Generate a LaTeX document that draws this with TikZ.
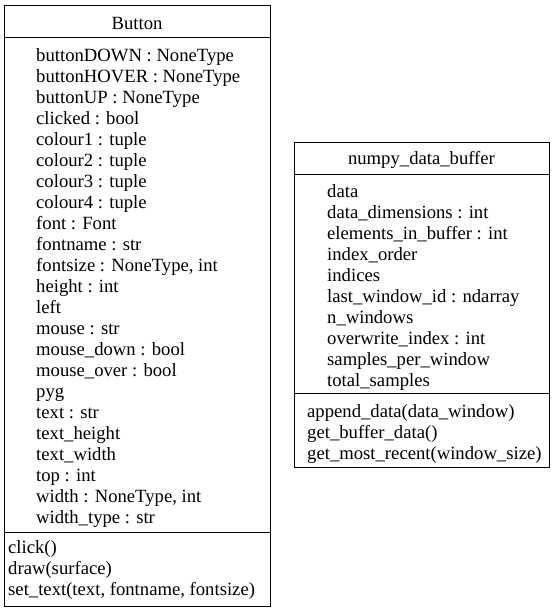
\documentclass[tikz,border=0pt]{standalone}
\usepackage{fontspec}
\setmainfont{Liberation Serif}
\usetikzlibrary{positioning}

\tikzset{
  member/.style={anchor=base west, inner sep=0pt, font=\fontsize{18.67}{21}\selectfont},
  classname/.style={anchor=base, inner sep=0pt, font=\fontsize{18.67}{21}\selectfont},
  frame/.style={draw, line width=1pt},
}

\begin{document}
\begin{tikzpicture}[x=1pt, y=-1pt]

  \def \step {21} % line spacing of the member lists
  \useasboundingbox (0,0) rectangle (555,611);

  % class Button
  \draw[frame] (4,5) rectangle (270,606);
  \draw[frame] (4,37) -- (270,37);
  \draw[frame] (4,532) -- (270,532);
  \node[classname] (button) at (137,29) {Button};
  \foreach \a [count=\i] in {buttonDOWN : NoneType, buttonHOVER : NoneType,
      buttonUP : NoneType, clicked : bool, colour1 : tuple, colour2 : tuple,
      colour3 : tuple, colour4 : tuple, font : Font, fontname : str,
      {fontsize : NoneType, int}, height : int, left, mouse : str,
      mouse\_down : bool, mouse\_over : bool, pyg, text : str, text\_height,
      text\_width, top : int, {width : NoneType, int}, width\_type : str} {
    \node[member] (ba\i) at (36,{61+\step*(\i-1)}) {\a};
  }
  \foreach \m [count=\i] in {click(), draw(surface),
      {set\_text(text, fontname, fontsize)}} {
    \node[member] (bm\i) at (8,{553+\step*(\i-1)}) {\m};
  }

  % class numpy_data_buffer
  \draw[frame] (294,142) rectangle (549,467);
  \draw[frame] (294,174) -- (549,174);
  \draw[frame] (294,393) -- (549,393);
  \node[classname] (buffer) at (421.5,164) {numpy\_data\_buffer};
  \foreach \a [count=\i] in {data, data\_dimensions : int,
      elements\_in\_buffer : int, index\_order, indices,
      last\_window\_id : ndarray, n\_windows, overwrite\_index : int,
      samples\_per\_window, total\_samples} {
    \node[member] (da\i) at (327,{197+\step*(\i-1)}) {\a};
  }
  \foreach \m [count=\i] in {append\_data(data\_window), get\_buffer\_data(),
      get\_most\_recent(window\_size)} {
    \node[member] (dm\i) at (307,{417+\step*(\i-1)}) {\m};
  }

\end{tikzpicture}
\end{document}
